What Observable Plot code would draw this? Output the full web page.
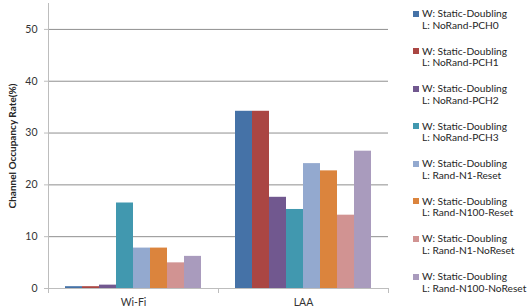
<!DOCTYPE html>
<html>
<head>
<meta charset="utf-8">
<script src="https://cdn.jsdelivr.net/npm/d3@7"></script>
<script src="https://cdn.jsdelivr.net/npm/@observablehq/plot@0.6"></script>
<style>
  html, body { margin: 0; padding: 0; background: #fff; }
  #wrap { position: relative; width: 527px; height: 307px; font-family: Lato, "Open Sans", sans-serif; }
  #legend { position: absolute; left: 413px; top: 8px; font-size: 10.2px; color: #262626; line-height: 11.6px; }
  .item { position: relative; padding-left: 9px; height: 23.2px; margin-bottom: 14.4px; white-space: nowrap; }
  .sw { position: absolute; left: 0; top: 2.5px; width: 6px; height: 6px; }
</style>
</head>
<body>
<div id="wrap"><div id="legend"></div></div>
<script>
const groups = ["Wi-Fi", "LAA"];
const seriesW = ["W: Static-Doubling", "W: Static-Doubling", "W: Static-Doubling", "W: Static-Doubling",
                 "W: Static-Doubling", "W: Static-Doubling", "W: Static-Doubling", "W: Static-Doubling"];
const seriesL = ["L: NoRand-PCH0", "L: NoRand-PCH1", "L: NoRand-PCH2", "L: NoRand-PCH3",
                 "L: Rand-N1-Reset", "L: Rand-N100-Reset", "L: Rand-N1-NoReset", "L: Rand-N100-NoReset"];
const wifiValues = [0.35, 0.35, 0.65, 16.5, 7.8, 7.8, 4.95, 6.2];
const laaValues = [34.2, 34.2, 17.6, 15.25, 24.1, 22.7, 14.15, 26.5];
const colors = ["#4572A7", "#AA4643", "#71588F", "#4198AF", "#93A9CF", "#DB843D", "#D19392", "#A99BBD"];
const yTicks = [0, 10, 20, 30, 40, 50];
const yLabel = "Channel Occupancy Rate(%)";

const keys = seriesL.map((l, i) => seriesW[i] + " " + l);
const valuesByGroup = [wifiValues, laaValues];
const data = [];
groups.forEach((g, gi) => keys.forEach((k, i) => data.push({group: g, series: k, value: valuesByGroup[gi][i]})));

const W = 527, H = 307, mT = 3, mB = 19, mL = 47, mR = 139;
const innerH = H - mT - mB;

const chart = Plot.plot({
  width: W, height: H,
  marginLeft: mL, marginRight: mR, marginTop: mT, marginBottom: mB,
  style: {fontFamily: "Lato, 'Open Sans', sans-serif", fontSize: "10.5px", color: "#333", background: "#fff", overflow: "visible"},
  fx: {domain: groups, padding: 0, label: null},
  x: {domain: keys, paddingInner: 0, paddingOuter: 0.737, axis: null},
  y: {domain: [0, 55]},
  color: {domain: keys, range: colors},
  marks: [
    Plot.gridY(yTicks.slice(1), {stroke: "#8f8f8f", strokeOpacity: 1}),
    Plot.barY(data, {fx: "group", x: "series", y: "value", fill: "series"}),
    Plot.ruleY([0], {stroke: "#bdbdbd"}),
    Plot.frame({anchor: "left", stroke: "#bdbdbd", insetBottom: -4, fx: () => groups[0]}),
    Plot.frame({anchor: "right", stroke: "#bdbdbd", insetTop: innerH, insetBottom: -4}),
    Plot.axisY(yTicks, {tickSize: 4, tickPadding: 7, stroke: "#bdbdbd", label: null}),
    Plot.axisY([], {tickSize: 0, label: yLabel, labelAnchor: "center", labelArrow: "none", labelOffset: 40, fontWeight: "bold", fontSize: 10, fill: "#262626"}),
    Plot.axisFx({anchor: "bottom", tickSize: 0, tickPadding: 10, label: null})
  ]
});
document.getElementById("wrap").prepend(chart);

const legend = document.getElementById("legend");
keys.forEach((k, i) => {
  const item = document.createElement("div");
  item.className = "item";
  const sw = document.createElement("span");
  sw.className = "sw";
  sw.style.background = colors[i];
  item.appendChild(sw);
  const l1 = document.createElement("div"); l1.textContent = seriesW[i];
  const l2 = document.createElement("div"); l2.textContent = seriesL[i];
  item.appendChild(l1); item.appendChild(l2);
  legend.appendChild(item);
});
</script>
</body>
</html>
